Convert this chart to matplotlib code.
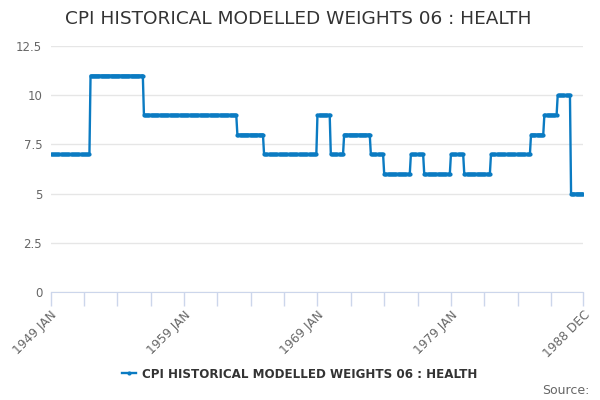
import numpy as np
import matplotlib
matplotlib.use('Agg')
import matplotlib.pyplot as plt

# step segments of the monthly series (value, number of months)
seg_values = [7, 11, 9, 8, 7, 9, 7, 8, 7, 6, 7, 6, 7, 6, 7, 8, 9, 10, 5]
seg_months = [36, 48, 84, 24, 48, 12, 12, 24, 12, 24, 12, 24, 12, 24, 36, 12, 12, 12, 12]
series_name = 'CPI HISTORICAL MODELLED WEIGHTS 06 : HEALTH'
tick_labels = {0: '1949 JAN', 120: '1959 JAN', 240: '1969 JAN', 360: '1979 JAN', 479: '1988 DEC'}
y_ticks = [0, 2.5, 5, 7.5, 10, 12.5]

values = np.repeat(seg_values, seg_months)
x = np.arange(len(values))

color = '#0b7bc2'
fig = plt.figure(figsize=(6, 4), dpi=100)
ax = fig.add_axes([50.5 / 600, 108 / 400, 532.8 / 600, 246 / 400])

ax.plot(x, values, color=color, linewidth=1.7, marker='o', markersize=3,
        markeredgewidth=0, label=series_name, zorder=3)

ax.set_xlim(0, len(values) - 1)
ax.set_ylim(0, 12.5)

# y axis: grid only, no spine
ax.set_yticks(y_ticks)
ax.set_yticklabels(['0', '2.5', '5', '7.5', '10', '12.5'])
ax.yaxis.grid(True, color='#e6e6e6', linewidth=1)
ax.tick_params(axis='y', length=0, labelsize=8.5, labelcolor='#666666', pad=6)

# x axis ticks every 30 months, labels every 10 years
xt = list(range(0, len(values), 30)) + [len(values) - 1]
ax.set_xticks(xt)
ax.set_xticklabels([tick_labels.get(t, '') for t in xt], rotation=45,
                   ha='right', rotation_mode='anchor')
ax.tick_params(axis='x', length=10, width=1, color='#ccd6eb',
               labelsize=8.7, labelcolor='#666666', pad=2)

for s in ['top', 'right', 'left']:
    ax.spines[s].set_visible(False)
ax.spines['bottom'].set_color('#ccd6eb')
ax.set_axisbelow(True)

fig.text(0.497, 0.953, series_name, ha='center', va='center',
         fontsize=13.3, color='#333333')

leg = fig.legend(loc='center', bbox_to_anchor=(0.5, 0.065), frameon=False,
                 handlelength=1.2, handletextpad=0.5, fontsize=8.6)
for t in leg.get_texts():
    t.set_color('#333333')
    t.set_fontweight('bold')

fig.text(0.982, 0.025, 'Source:', ha='right', va='center', fontsize=9, color='#666666')

fig.savefig('out.png', dpi=100)
